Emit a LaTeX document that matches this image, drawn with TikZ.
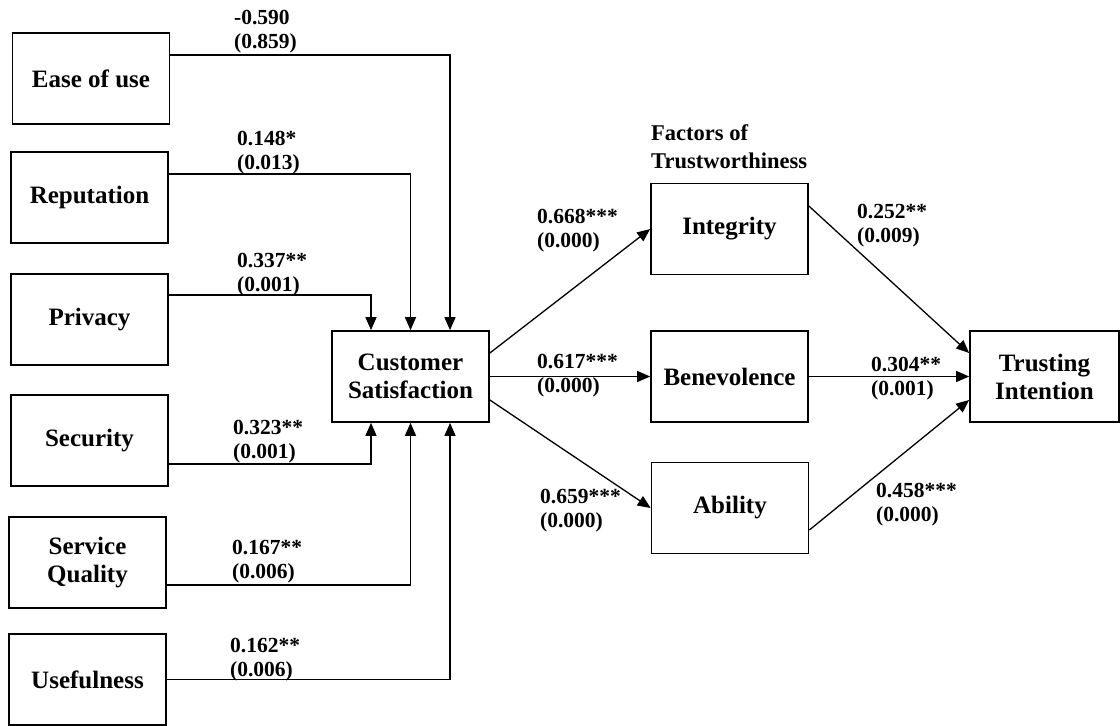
\documentclass[tikz,border=0pt]{standalone}
\usepackage{fontspec}
\setmainfont{Liberation Serif}
\usetikzlibrary{arrows.meta}

\tikzset{
  box/.style={draw, line width=1.7pt, minimum width=157pt, minimum height=91pt,
              inner sep=0pt, align=center,
              font=\fontsize{25}{28}\selectfont\bfseries},
  coef/.style={anchor=north west, inner sep=0pt, align=left,
               font=\fontsize{21.5}{24}\selectfont\bfseries},
  arr/.style={line width=1.3pt, -{Triangle[length=13pt,width=11pt]}},
}

\begin{document}
\begin{tikzpicture}[x=1pt,y=-1pt]
\useasboundingbox (0,0) rectangle (1120,726);

% antecedents of satisfaction
\node[box] (ease) at (91,78.5)    {Ease of use};
\node[box] (rep)  at (89.5,197.5) {Reputation};
\node[box] (priv) at (89.5,319.5) {Privacy};
\node[box] (sec)  at (89.5,440.5) {Security};
\node[box] (sq)   at (87.5,562.5) {Service\\Quality};
\node[box] (use)  at (87.5,679.5) {Usefulness};

% mediator
\node[box] (cs) at (410.5,376.5) {Customer\\Satisfaction};

% trustworthiness factors
\node[anchor=north west, inner sep=0pt, align=left,
      font=\fontsize{22.5}{28}\selectfont\bfseries] (fac) at (651,124)
      {Factors of\\Trustworthiness};
\node[box] (int) at (729.5,229)   {Integrity};
\node[box] (ben) at (729.5,376.5) {Benevolence};
\node[box] (abi) at (730,508)     {Ability};

% outcome
\node[box, minimum width=149pt] (ti) at (1044.5,376.5) {Trusting\\Intention};

% paths into satisfaction
\draw[arr] ([yshift=23.5pt]ease.east) -| ([xshift=39.5pt]cs.north);
\draw[arr] ([yshift=23.5pt]rep.east)  -| (cs.north);
\draw[arr] ([yshift=24.5pt]priv.east) -| ([xshift=-39.5pt]cs.north);
\draw[arr] ([yshift=-23.5pt]sec.east) -| ([xshift=-39.5pt]cs.south);
\draw[arr] ([yshift=-22.5pt]sq.east)  -| (cs.south);
\draw[arr] (use.east) -| ([xshift=39.5pt]cs.south);

% satisfaction to trustworthiness factors
\draw[arr] ([yshift=23.5pt]cs.east)  -- (int.west);
\draw[arr] (cs.east) -- (ben.west);
\draw[arr] ([yshift=-23.5pt]cs.east) -- (abi.west);

% factors to trusting intention
\draw[arr] ([yshift=23pt]int.east)  -- ([yshift=23.5pt]ti.west);
\draw[arr] (ben.east) -- (ti.west);
\draw[arr] ([yshift=-22pt]abi.east) -- ([yshift=-23.5pt]ti.west);

% path coefficients (p-values)
\node[coef] (c1)  at (234,10)  {-0.590\\(0.859)};
\node[coef] (c2)  at (237,131) {0.148*\\(0.013)};
\node[coef] (c3)  at (237,253) {0.337**\\(0.001)};
\node[coef] (c4)  at (233,420) {0.323**\\(0.001)};
\node[coef] (c5)  at (232,540) {0.167**\\(0.006)};
\node[coef] (c6)  at (230,638) {0.162**\\(0.006)};
\node[coef] (c7)  at (537,209) {0.668***\\(0.000)};
\node[coef] (c8)  at (537,354) {0.617***\\(0.000)};
\node[coef] (c9)  at (540,489) {0.659***\\(0.000)};
\node[coef] (c10) at (857,204) {0.252**\\(0.009)};
\node[coef] (c11) at (871,357) {0.304**\\(0.001)};
\node[coef] (c12) at (876,483) {0.458***\\(0.000)};
\end{tikzpicture}
\end{document}
